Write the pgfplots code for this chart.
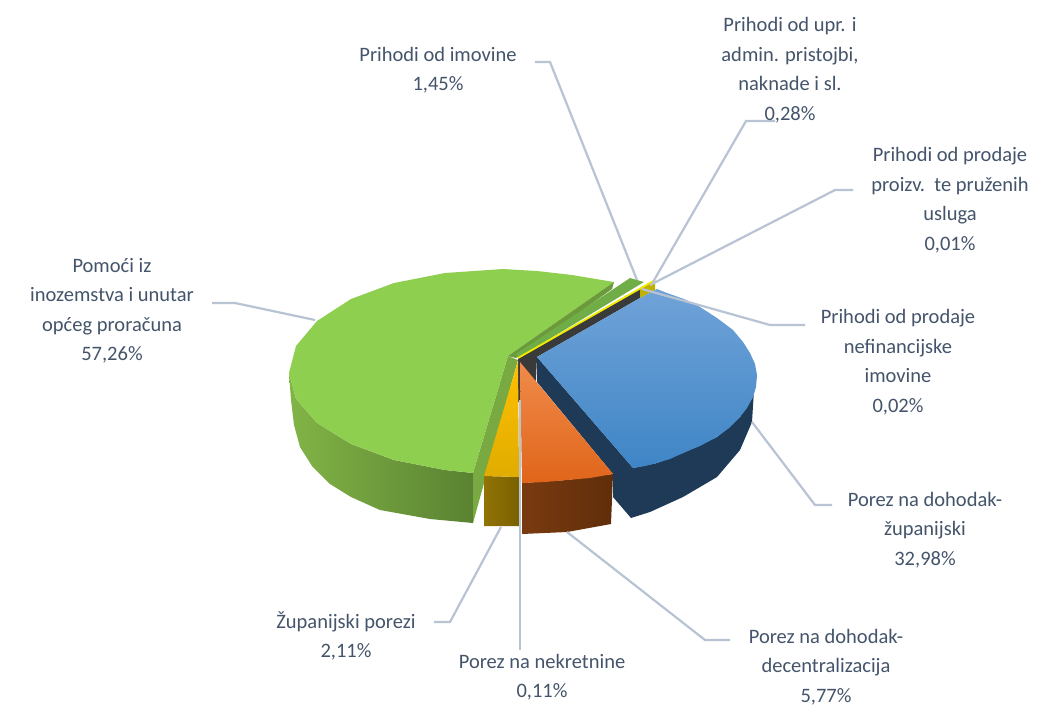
\documentclass[border=0pt]{standalone}
\usepackage{pgfplots}
\pgfplotsset{compat=1.18}
\usepackage{fontspec}
\setmainfont{Carlito}
\definecolor{lbl}{HTML}{44546A}
\definecolor{lead}{HTML}{B8C3D3}
\begin{document}
\begin{tikzpicture}
\begin{axis}[scale only axis,width=1048pt,height=704pt,xmin=0,xmax=1048,ymin=0,ymax=704,y dir=reverse,hide axis,clip=false,
  lab/.style={},]
% navy side of blue slice
\addplot[draw=none,fill=black!0] coordinates {(0,0)(1048,0)(1048,704)(0,704)} -- cycle;
\addplot[draw=none,fill=none] coordinates {(0,0)(1048,704)};
\addplot[draw=none,fill={rgb,255:red,30;green,58;blue,87}] coordinates {(537,357)(633,468)(657,463)(683,453)(717,437)(740,417)(753,397)(757,375)(754,390)(752,422)(740,450)(717,477)(683,497)(650,512)(631,518)(613,497)(613,474)(537,382)} -- cycle;
% dark inner faces
\addplot[draw=none,fill={rgb,255:red,58;green,58;blue,58}] coordinates {(518,358)(640,289)(640,298)(537,357)(536,380)(521,402)(518,402)} -- cycle;
% olive side
\addplot[draw=none,fill={rgb,255:red,192;green,176;blue,0}] coordinates {(640,289)(655,280)(655,290)(640,298)} -- cycle;
% blue top
\addplot[draw=none,top color={rgb,255:red,112;green,163;blue,216},bottom color={rgb,255:red,63;green,133;blue,198}] coordinates {(537,357)(640,298)(657,289)(667,293)(684,299)(700,307)(717,318)(733,330)(743,342)(750,353)(755,364)(757,375)(756,387)(753,397)(747,408)(740,417)(729,428)(717,437)(700,446)(683,453)(670,459)(657,463)(645,466)(633,468)} -- cycle;
% green side
\addplot[draw=none,left color={rgb,255:red,130;green,180;blue,70},right color={rgb,255:red,90;green,130;blue,50}] coordinates {(289,373)(296,399)(317,423)(351,444)(394,460)(445,470)(473,473)(473,523)(430,519)(380,510)(351,497)(330,484)(312,466)(300,447)(294,425)(291,400)} -- cycle;
% green inner face
\addplot[draw=none,fill={rgb,255:red,120;green,170;blue,65}] coordinates {(508,356)(473,473)(473,523)(511,385)(518,360)} -- cycle;
% green top
\addplot[draw=none,fill={rgb,255:red,143;green,207;blue,80}] coordinates {(614,282)(572,275)(537,271)(503,269)(445,273)(394,283)(351,299)(317,321)(296,346)(289,373)(296,399)(317,423)(351,444)(394,460)(445,470)(473,473)(508,356)} -- cycle;
% green back face
\addplot[draw=none,fill={rgb,255:red,107;green,154;blue,58}] coordinates {(614,282)(612,289)(516,358)(508,356)} -- cycle;
% small green
\addplot[draw=none,fill={rgb,255:red,112;green,173;blue,71}] coordinates {(516,354)(630,278)(644,282)(518,358)} -- cycle;
% yellow line
\addplot[draw={rgb,255:red,240;green,235;blue,0},line width=1.8pt] coordinates {(518,358)(655,280)};
% yellow slice side and top
\addplot[draw=none,left color={rgb,255:red,145;green,115;blue,5},right color={rgb,255:red,122;green,96;blue,0}] coordinates {(484,476)(519,477)(519,526)(484,526)} -- cycle;
\addplot[draw=none,top color={rgb,255:red,255;green,192;blue,0},bottom color={rgb,255:red,224;green,172;blue,0}] coordinates {(518,361)(484,476)(519,477)} -- cycle;
% orange
\addplot[draw=none,left color={rgb,255:red,122;green,58;blue,16},right color={rgb,255:red,95;green,46;blue,10}] coordinates {(522,483)(567,480)(613,474)(611,524)(567,532)(522,534)} -- cycle;
\addplot[draw=none,top color={rgb,255:red,240;green,139;blue,75},bottom color={rgb,255:red,224;green,101;blue,26}] coordinates {(520,362)(613,474)(590,478)(567,480)(545,482)(522,483)} -- cycle;
% leaders
\addplot[draw=lead,line width=2.2pt] coordinates {(535,62)(550,62)(637,280)};
\addplot[draw=lead,line width=2.2pt] coordinates {(775,121)(746,121)(653,282)};
\addplot[draw=lead,line width=2.2pt] coordinates {(853,190)(835,190)(650,285)};
\addplot[draw=lead,line width=2.2pt] coordinates {(642,289)(770,325)(805,325)};
\addplot[draw=lead,line width=2.2pt] coordinates {(752,422)(815,505)(832,505)};
\addplot[draw=lead,line width=2.2pt] coordinates {(567,532)(705,640)(730,640)};
\addplot[draw=lead,line width=2.2pt] coordinates {(501,527)(450,622)(434,622)};
\addplot[draw=lead,line width=2.2pt] coordinates {(520,400)(520,650)};
\addplot[draw=lead,line width=2.2pt] coordinates {(315,320)(235,303)(212,303)};
% labels
\tikzset{every node/.append style={overlay,text=lbl,align=center,font=\fontsize{20.5}{29.5}\selectfont}}
\node at (axis cs:438,70) {Prihodi od imovine\\1,45\%};
\node at (axis cs:790,70) {Prihodi od upr. i\\admin. pristojbi,\\naknade i sl.\\0,28\%};
\node at (axis cs:950,200) {Prihodi od prodaje\\proizv.\ \ te pruženih\\usluga\\0,01\%};
\node at (axis cs:898,362) {Prihodi od prodaje\\nefinancijske\\imovine\\0,02\%};
\node at (axis cs:925,530) {Porez na dohodak-\\županijski\\32,98\%};
\node at (axis cs:826,667) {Porez na dohodak-\\decentralizacija\\5,77\%};
\node at (axis cs:542,677) {Porez na nekretnine\\0,11\%};
\node at (axis cs:346,636) {Županijski porezi\\2,11\%};
\node at (axis cs:112,311) {Pomoći iz\\inozemstva i unutar\\općeg proračuna\\57,26\%};
\end{axis}
\end{tikzpicture}
\end{document}
